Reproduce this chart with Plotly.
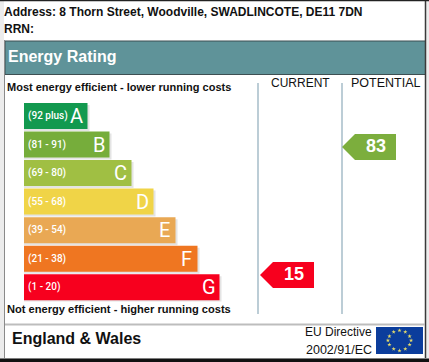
import plotly.graph_objects as go

W, H = 429, 362

# ---- data ----
bands = ["A", "B", "C", "D", "E", "F", "G"]
band_ranges = ["(92 plus)", "(81 - 91)", "(69 - 80)", "(55 - 68)", "(39 - 54)", "(21 - 38)", "(1 - 20)"]
band_lengths = [63.5, 85.5, 107.5, 129.5, 151.5, 173.5, 195.5]
band_colors = ["#12994f", "#76ad3b", "#a0bf43", "#f0d447", "#e9a854", "#ef7621", "#f7001e"]
score_names = ["CURRENT", "POTENTIAL"]
score_values = [15, 83]
score_colors = ["#f7001e", "#7cae3d"]

FONT = "Liberation Sans, Arial, sans-serif"
LABEL = "Roboto, sans-serif"


def py(p):
    return 1 - p / H


fig = go.Figure()

# bands: shadow then bar
fig.add_trace(go.Bar(
    y=bands, x=[v + 2 for v in band_lengths], base=24, orientation="h",
    width=0.91, offset=-0.385, marker=dict(color="#e4e4e4", line_width=0),
    xaxis="x", yaxis="y", hoverinfo="skip", showlegend=False))
fig.add_trace(go.Bar(
    y=bands, x=band_lengths, base=24, orientation="h",
    width=0.91, offset=-0.455, marker=dict(color=band_colors, line_width=0),
    xaxis="x", yaxis="y", hoverinfo="skip", showlegend=False))

# score arrows on a score axis
tips = [260, 342]
ends = [314, 396]
half = 6.9
for name, v, c, tip, end in zip(score_names, score_values, score_colors, tips, ends):
    fig.add_trace(go.Scatter(
        x=[tip, tip + 13, end, end, tip + 13, tip],
        y=[v, v + half, v + half, v - half, v - half, v],
        xaxis="x2", yaxis="y2", mode="lines", fill="toself", fillcolor=c,
        line=dict(width=0, color=c), hoverinfo="skip", showlegend=False))
    fig.add_trace(go.Scatter(
        x=[tip + 34], y=[v], xaxis="x2", yaxis="y2", mode="text", text=[str(v)],
        textposition="middle center",
        textfont=dict(family=FONT, size=18, color="white", weight="bold"),
        hoverinfo="skip", showlegend=False))

# EU flag stars
stars_x = [399.5, 405.3, 409.6, 411.1, 409.6, 405.3, 399.5, 393.7, 389.4, 387.9, 389.4, 393.7]
stars_y = [330.4, 332.0, 336.3, 340.5, 344.7, 349.0, 350.6, 349.0, 344.7, 340.5, 336.3, 332.0]
fig.add_trace(go.Scatter(
    x=stars_x, y=stars_y, xaxis="x3", yaxis="y3", mode="markers",
    marker=dict(symbol="star", size=3.2, color="#e6dc6a", line_width=0),
    hoverinfo="skip", showlegend=False))


def rect(x0, y0, x1, y1, fill=None, line=None, lw=1, layer="below"):
    return dict(type="rect", xref="paper", yref="paper", x0=x0 / W, x1=x1 / W,
                y0=py(y0), y1=py(y1), fillcolor=fill or "rgba(0,0,0,0)",
                line=dict(color=line or "rgba(0,0,0,0)", width=lw if line else 0), layer=layer)


def vline(x, y0, y1, color, lw):
    return dict(type="line", xref="paper", yref="paper", x0=x / W, x1=x / W,
                y0=py(y0), y1=py(y1), line=dict(color=color, width=lw), layer="below")


def hline(y, x0, x1, color, lw):
    return dict(type="line", xref="paper", yref="paper", x0=x0 / W, x1=x1 / W,
                y0=py(y), y1=py(y), line=dict(color=color, width=lw), layer="below")


shapes = [
    rect(0, 0, 429, 362, fill="#ececec"),
    rect(4, 1, 426, 358, fill="white"),
    rect(5, 41, 425.5, 74.5, fill="#5f9399", line="#3d4f52", lw=1),
    vline(4.5, 40, 358, "#8a8a8a", 1),
    vline(425.5, 0, 358, "#3a3a3a", 1.5),
    hline(0.5, 0, 429, "#222222", 1.5),
    hline(360.5, 0, 429, "#111111", 4),
    hline(324.5, 5, 425, "#bdbdbd", 2),
    vline(258, 83, 314, "#bccdd6", 2),
    vline(342, 83, 314, "#bccdd6", 2),
    rect(376, 327, 423, 354, fill="#0b3d9c"),
]


def text(x, y, s, size, bold=False, color="#111111", anchor="left", family=FONT):
    return dict(xref="paper", yref="paper", x=x / W, y=py(y), text=s, showarrow=False,
                xanchor=anchor, yanchor="middle", align=anchor,
                font=dict(family=family, size=size, color=color, weight="bold" if bold else "normal"))


anns = [
    text(1.5, 12, "Address: 8 Thorn Street, Woodville, SWADLINCOTE, DE11 7DN", 12, True),
    text(1.5, 29, "RRN:", 12, True),
    text(5.5, 56.5, "Energy Rating", 16, True, color="white"),
    text(4.5, 87, "Most energy efficient - lower running costs", 11, True),
    text(4.5, 308.5, "Not energy efficient - higher running costs", 11.1, True),
    text(300.5, 83, score_names[0], 12, anchor="center"),
    text(385.5, 83, score_names[1], 12.5, anchor="center"),
    text(9.5, 338, "England &amp; Wales", 16, True),
    text(374, 332, "EU Directive", 12, anchor="right"),
    text(374, 349.5, "2002/91/EC", 12.5, anchor="right"),
]

for b, r, l in zip(bands, band_ranges, band_lengths):
    anns.append(dict(xref="x", yref="y", x=25.5, y=b, text=r, showarrow=False, xanchor="left",
                     yanchor="middle", font=dict(family=LABEL, size=10, color="white", weight=500)))
    anns.append(dict(xref="x", yref="y", x=24 + l - 11, y=b, text=b, showarrow=False, xanchor="center",
                     yanchor="middle", font=dict(family=LABEL, size=20, color="white")))

hidden = dict(visible=False, fixedrange=True)
fig.update_layout(
    width=W, height=H, autosize=False,
    margin=dict(l=0, r=0, t=0, b=0, pad=0),
    paper_bgcolor="white", plot_bgcolor="rgba(0,0,0,0)",
    barmode="overlay", showlegend=False,
    shapes=shapes, annotations=anns,
    xaxis=dict(range=[0, W], domain=[0, 1], anchor="y", **hidden),
    yaxis=dict(type="category", categoryorder="array", categoryarray=bands, range=[6.5, -0.5],
               domain=[py(301.5), py(101.7)], anchor="x", **hidden),
    xaxis2=dict(range=[0, W], domain=[0, 1], anchor="y2", **hidden),
    yaxis2=dict(range=[-31.2, 161.1], domain=[0, 1], anchor="x2", **hidden),
    xaxis3=dict(range=[0, W], domain=[0, 1], anchor="y3", **hidden),
    yaxis3=dict(range=[H, 0], domain=[0, 1], anchor="x3", **hidden),
)

fig.write_html("out.html", config=dict(displayModeBar=False),
               post_script="document.body.style.margin='0';document.body.style.overflow='hidden';")
